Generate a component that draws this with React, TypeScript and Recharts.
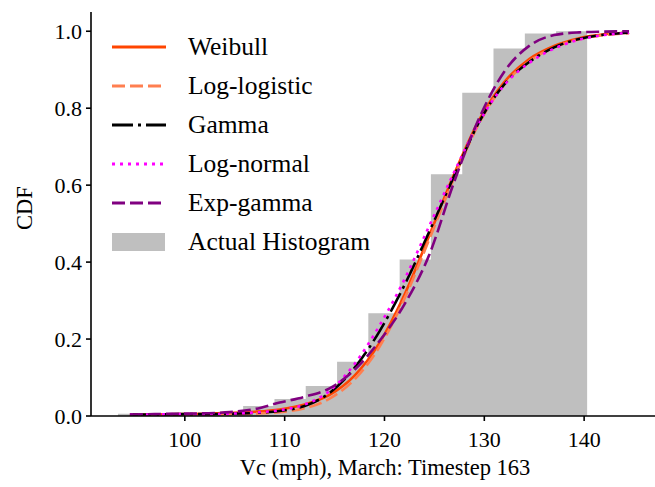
import React from 'react';
import { ComposedChart, Area, Line, XAxis, YAxis, Label } from 'recharts';

// sample points of the fitted CDF curves
const xs = [94.5, 97, 99.5, 102, 104.5, 107, 109.5, 112, 114.5, 117, 119.5, 122, 124.5, 127, 129.5, 132, 134.5, 137, 139.5, 142, 144.5];

const weibull = [0.003, 0.004, 0.005, 0.006, 0.008, 0.011, 0.017, 0.03, 0.055, 0.105, 0.19, 0.315, 0.47, 0.63, 0.77, 0.868, 0.928, 0.962, 0.982, 0.992, 0.996];
const logLogistic = [0.003, 0.003, 0.004, 0.004, 0.005, 0.006, 0.01, 0.02, 0.045, 0.095, 0.18, 0.305, 0.46, 0.62, 0.762, 0.862, 0.922, 0.958, 0.979, 0.99, 0.995];
const gamma = [0.004, 0.004, 0.005, 0.005, 0.006, 0.008, 0.013, 0.026, 0.06, 0.125, 0.22, 0.34, 0.48, 0.625, 0.765, 0.862, 0.92, 0.958, 0.98, 0.991, 0.996];
const logNormal = [0.004, 0.004, 0.005, 0.005, 0.006, 0.009, 0.015, 0.03, 0.065, 0.135, 0.235, 0.355, 0.495, 0.635, 0.765, 0.86, 0.918, 0.955, 0.978, 0.99, 0.996];
const expGamma = [0.004, 0.005, 0.006, 0.007, 0.01, 0.018, 0.035, 0.05, 0.072, 0.12, 0.195, 0.29, 0.42, 0.61, 0.775, 0.895, 0.962, 0.99, 0.997, 0.999, 1.0];

// cumulative histogram
const histEdges = [93.3, 96.44, 99.57, 102.71, 105.84, 108.98, 112.11, 115.25, 118.38, 121.52, 124.65, 127.79, 130.92, 134.06, 137.19, 140.3];
const histCdf = [0.006, 0.007, 0.007, 0.009, 0.026, 0.044, 0.078, 0.141, 0.267, 0.407, 0.628, 0.84, 0.955, 0.994, 1.0];

const xTicks = [100, 110, 120, 130, 140];
const yTicks = [0, 0.2, 0.4, 0.6, 0.8, 1.0];

const toPoints = (ys: number[]) => xs.map((x, i) => ({ x, y: ys[i] }));
const histPoints = histEdges.map((x, i) => ({ x, y: histCdf[Math.min(i, histCdf.length - 1)] }));

const FONT = '"Liberation Serif", "Times New Roman", serif';

const series = [
  { name: 'Weibull', data: weibull, color: '#ff4500', dash: undefined },
  { name: 'Log-logistic', data: logLogistic, color: '#ff7f50', dash: '13 5' },
  { name: 'Gamma', data: gamma, color: '#000000', dash: '21 5 3 5' },
  { name: 'Log-normal', data: logNormal, color: '#ff00ff', dash: '3 5' },
  { name: 'Exp-gamma', data: expGamma, color: '#800080', dash: '13 5' },
];

const renderYLabel = () => (
  <text x={0} y={0} transform="translate(32,208) rotate(-90)" textAnchor="middle" fontFamily={FONT} fontSize={22.5} fill="#000">
    CDF
  </text>
);

const renderXLabel = () => (
  <text x={385} y={475} textAnchor="middle" fontFamily={FONT} fontSize={22.5} fill="#000">
    Vc (mph), March: Timestep 163
  </text>
);

function LegendBox() {
  const rowTop = 27;
  const rowH = 39;
  return (
    <div style={{ position: 'absolute', left: 112, top: rowTop, fontFamily: FONT, fontSize: 25.5, color: '#000' }}>
      {series.map((s, i) => (
        <div key={s.name} style={{ position: 'absolute', top: i * rowH, left: 0, height: rowH, display: 'flex', alignItems: 'center', whiteSpace: 'nowrap' }}>
          <svg width={54} height={10} style={{ display: 'block' }}>
            <line x1={0} y1={5} x2={54} y2={5} stroke={s.color} strokeWidth={2.8} strokeDasharray={s.dash} />
          </svg>
          <span style={{ marginLeft: 22 }}>{s.name}</span>
        </div>
      ))}
      <div style={{ position: 'absolute', top: 5 * rowH, left: 0, height: rowH, display: 'flex', alignItems: 'center', whiteSpace: 'nowrap' }}>
        <div style={{ width: 53, height: 18, background: '#bfbfbf' }} />
        <span style={{ marginLeft: 23 }}>Actual Histogram</span>
      </div>
    </div>
  );
}

export default function App() {
  const tickStyle = { fontFamily: FONT, fontSize: 22, fill: '#000' };
  return (
    <div style={{ position: 'absolute', left: 0, top: 0, width: 655, height: 487, overflow: 'hidden', background: '#fff' }}>
      <ComposedChart width={660} height={487} margin={{ top: 12, right: 0, bottom: 0, left: 0 }}>
        <XAxis
          dataKey="x"
          type="number"
          domain={[90.6, 147.6]}
          ticks={xTicks}
          allowDataOverflow
          height={71}
          tick={tickStyle}
          tickSize={5}
          tickMargin={10}
          stroke="#000"
          strokeWidth={1.6}
        >
          <Label content={renderXLabel} />
        </XAxis>
        <YAxis
          type="number"
          domain={[0, 1.05]}
          ticks={yTicks}
          allowDataOverflow
          width={91}
          tick={tickStyle}
          tickSize={5}
          tickMargin={4}
          tickFormatter={(v: number) => v.toFixed(1)}
          stroke="#000"
          strokeWidth={1.6}
        >
          <Label content={renderYLabel} />
        </YAxis>
        <Area
          data={histPoints}
          dataKey="y"
          type="stepAfter"
          stroke="none"
          fill="#bfbfbf"
          fillOpacity={1}
          isAnimationActive={false}
        />
        {series.map((s) => (
          <Line
            key={s.name}
            data={toPoints(s.data)}
            dataKey="y"
            type="monotone"
            stroke={s.color}
            strokeWidth={2.6}
            strokeDasharray={s.dash}
            dot={false}
            activeDot={false}
            isAnimationActive={false}
          />
        ))}
      </ComposedChart>
      <LegendBox />
    </div>
  );
}
